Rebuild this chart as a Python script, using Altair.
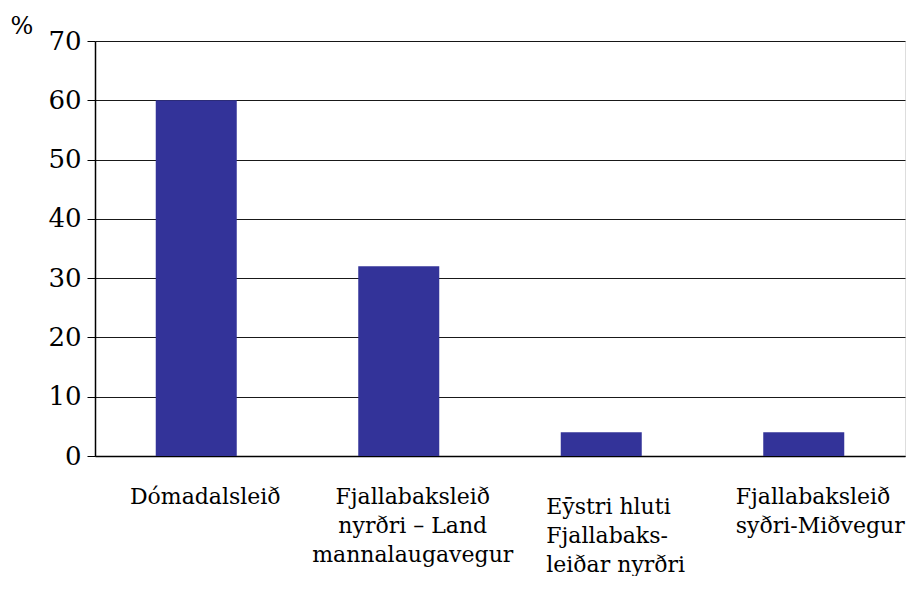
import altair as alt
import pandas as pd

categories = [
    "Dómadalsleið",
    "Fjallabaksleið|nyrðri – Land|mannalaugavegur",
    "Eȳstri hluti|Fjallabaks-|leiðar nyrðri",
    "Fjallabaksleið|syðri-Miðvegur",
]
values = [60, 32, 4, 4]
y_ticks = [0, 10, 20, 30, 40, 50, 60, 70]

df = pd.DataFrame({"cat": categories, "val": values})

FONT = "DejaVu Serif"

x_axis = alt.Axis(
    title=None,
    labelAngle=0,
    labelExpr="split(datum.label, '|')",
    labelFont=FONT,
    labelFontSize=22,
    labelColor="#000000",
    labelLineHeight=29,
    labelBaseline="top",
    labelPadding={"condition": [
        {"test": f"datum.value == '{categories[2]}'", "value": 40},
    ], "value": 30},
    labelAlign={"condition": {"test": f"datum.value == '{categories[2]}' || datum.value == '{categories[3]}'", "value": "left"}, "value": "center"},
    labelOffset={"condition": [
        {"test": f"datum.value == '{categories[0]}'", "value": 9},
        {"test": f"datum.value == '{categories[1]}'", "value": 14},
        {"test": f"datum.value == '{categories[2]}'", "value": -55},
        {"test": f"datum.value == '{categories[3]}'", "value": -68},
    ], "value": 0},
    ticks=False,
    domainColor="#000000",
    domainWidth=1.5,
    labelLimit=400,
)

y_axis = alt.Axis(
    title="%",
    titleAngle=0,
    titleFont=FONT,
    titleFontSize=24,
    titleFontWeight="normal",
    titleColor="#000000",
    titleAlign="left",
    titleBaseline="alphabetic",
    titleX=-85,
    titleY=-8,
    values=y_ticks,
    labelFont=FONT,
    labelFontSize=26,
    labelColor="#000000",
    labelPadding=6,
    tickSize=8,
    tickColor="#000000",
    domainColor="#000000",
    domainWidth=1.5,
    gridColor="#000000",
    gridWidth=1,
    gridOpacity=0.9,
)

chart = (
    alt.Chart(df)
    .mark_bar(color="#333399")
    .encode(
        x=alt.X("cat:N", sort=None, axis=x_axis, scale=alt.Scale(paddingInner=0.6, paddingOuter=0.3)),
        y=alt.Y("val:Q", axis=y_axis, scale=alt.Scale(domain=[0, 70], nice=False)),
    )
    .properties(
        width=810,
        height=415,
        autosize=alt.AutoSizeParams(type="none"),
        padding={"left": 87, "top": 33, "right": 3, "bottom": 120},
    )
    .configure_view(stroke="#555555", strokeWidth=1.5)
    .configure(background="white")
)

chart.save("out.html", embed_options={"renderer": "svg", "actions": False})
